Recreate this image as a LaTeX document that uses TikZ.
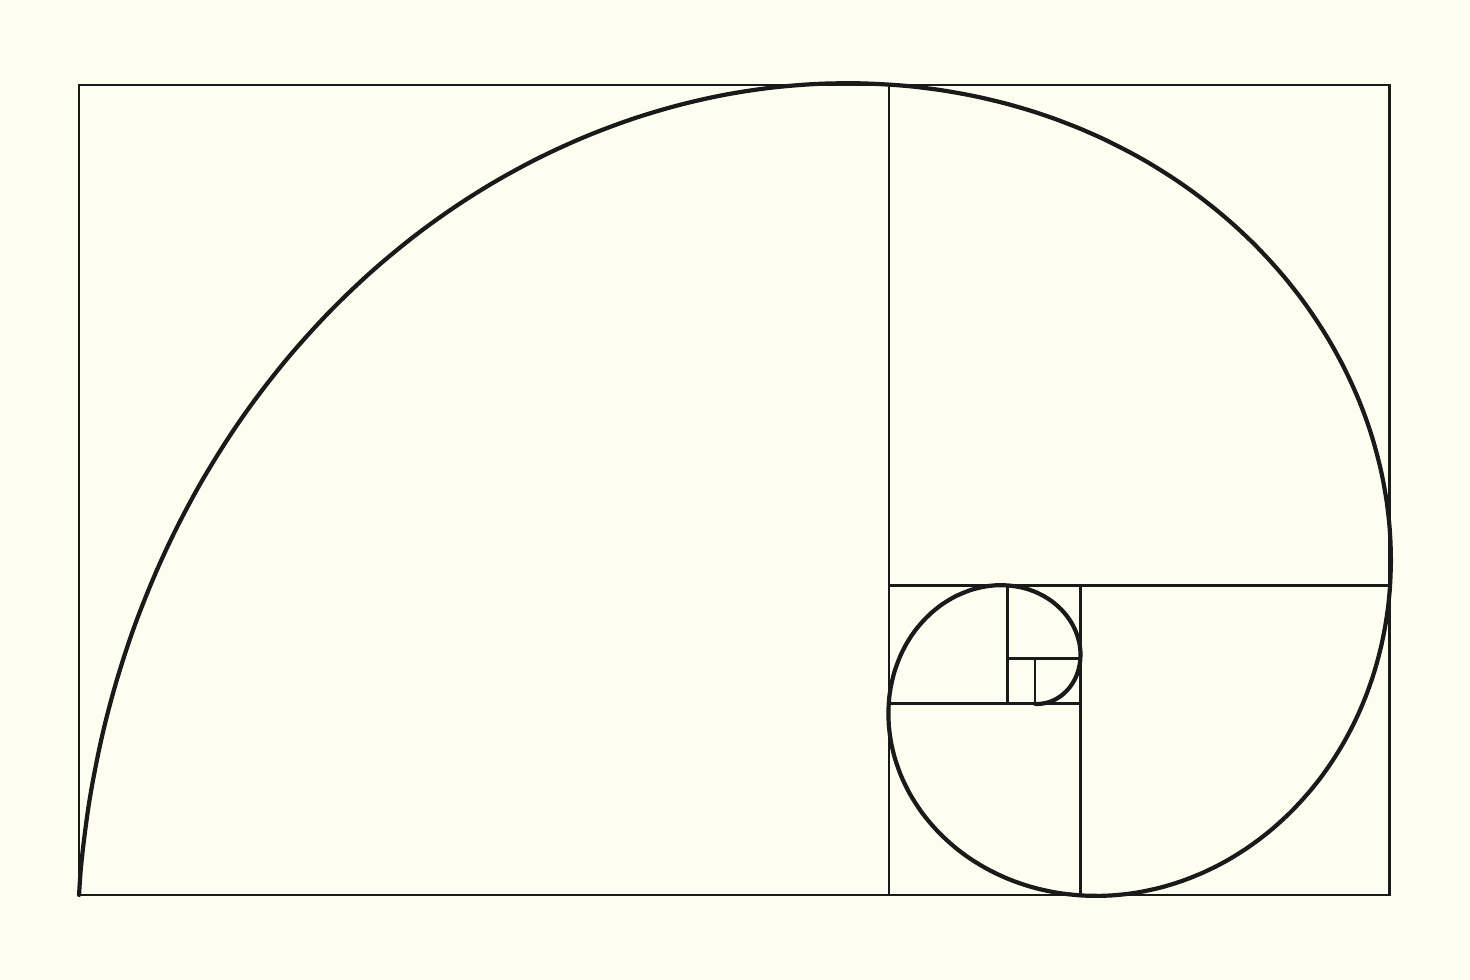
\documentclass[tikz,border=0pt]{standalone}
\definecolor{bgcol}{HTML}{FEFEF0}
\definecolor{ink}{HTML}{1A1A1A}
\begin{document}
\begin{tikzpicture}[
  gridline/.style={draw=ink, line width=2.8pt},
  spiralline/.style={draw=ink, line width=4.2pt, line cap=round, line join=round}]
\fill[bgcol] (0,0) rectangle (1470pt,980pt);
\useasboundingbox (0,0) rectangle (1470pt,980pt);
\begin{scope}[shift={(79pt,85pt)}, x=810pt, y=810pt]
  % squares
  \draw[gridline] (0,0) rectangle (1.6180340,1);
  \draw[gridline] (1,0) -- (1,1);
  \draw[gridline] (1,0.3819660) -- (1.6180340,0.3819660);
  \draw[gridline] (1.2360680,0) -- (1.2360680,0.3819660);
  \draw[gridline] (1,0.2360680) -- (1.2360680,0.2360680);
  \draw[gridline] (1.1458980,0.2360680) -- (1.1458980,0.3819660);
  \draw[gridline] (1.1458980,0.2917961) -- (1.2360680,0.2917961);
  \draw[gridline] (1.1803399,0.2360680) -- (1.1803399,0.2917961);
  % golden logarithmic spiral
  \draw[spiralline] plot[domain=193.2825:-436.7175, samples=500, smooth]
    ({1.1708204 + 1.2030015*exp(0.005346798*(\x-193.2825))*cos(\x)},
     {0.2763932 + 1.2030015*exp(0.005346798*(\x-193.2825))*sin(\x)});
\end{scope}
\end{tikzpicture}
\end{document}
